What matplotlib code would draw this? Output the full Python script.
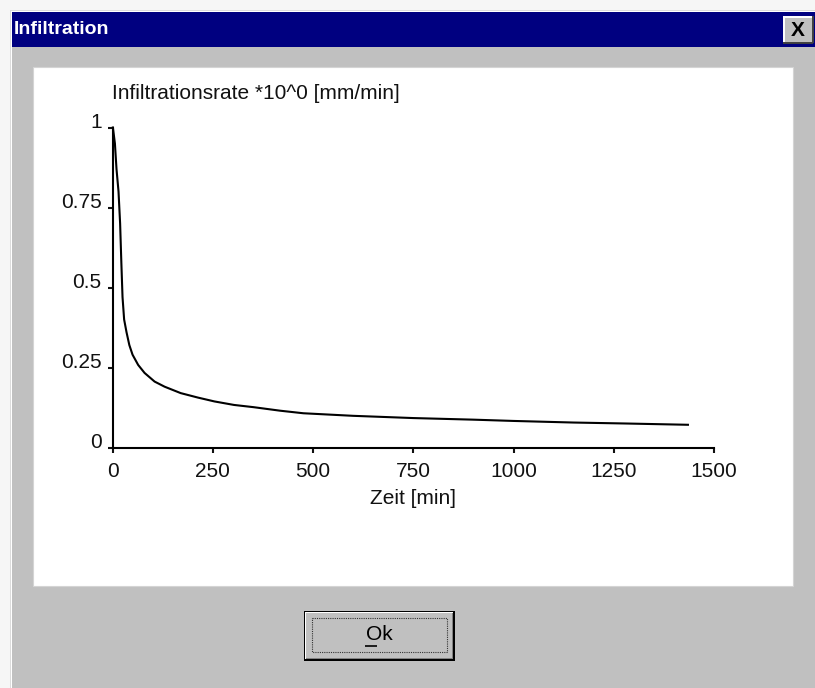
import matplotlib
matplotlib.use("Agg")
import matplotlib.pyplot as plt
from matplotlib.patches import Rectangle
from matplotlib.lines import Line2D

# ---- data ----
time_min = [1, 6, 10, 15, 19, 22, 25, 29, 35, 42, 50, 64, 80, 105, 130, 170,
            213, 254, 303, 352, 418, 476, 600, 750, 900, 1000, 1150, 1280, 1435]
rate = [1.0, 0.95, 0.87, 0.80, 0.70, 0.58, 0.47, 0.40, 0.36, 0.32, 0.29, 0.258,
        0.233, 0.206, 0.19, 0.17, 0.156, 0.144, 0.133, 0.126, 0.115, 0.107,
        0.099, 0.092, 0.087, 0.083, 0.078, 0.075, 0.071]
x_ticks = [0, 250, 500, 750, 1000, 1250, 1500]
x_tick_labels = ["0", "250", "500", "750", "1000", "1250", "1500"]
y_ticks = [0, 0.25, 0.5, 0.75, 1]
y_tick_labels = ["0", "0.25", "0.5", "0.75", "1"]
window_title = "Infiltration"
y_label = "Infiltrationsrate *10^0 [mm/min]"
x_label = "Zeit [min]"
button_text = "Ok"

W, H = 815, 688
FONT = ["Liberation Sans", "DejaVu Sans"]
plt.rcParams["font.family"] = FONT

fig = plt.figure(figsize=(W / 100, H / 100), dpi=100)
fig.patch.set_facecolor("#F6F6F6")

# background "dialog" axes in pixel coordinates
bg = fig.add_axes([0, 0, 1, 1], zorder=0)
bg.set_xlim(0, W)
bg.set_ylim(H, 0)
bg.axis("off")

def rect(x0, y0, x1, y1, fc, ec="none", lw=0, z=1):
    bg.add_patch(Rectangle((x0, y0), x1 - x0, y1 - y0, facecolor=fc,
                           edgecolor=ec, linewidth=lw, zorder=z))

def hline(x0, x1, y, c, lw=1.0, z=3, ls="-"):
    bg.add_line(Line2D([x0, x1], [y, y], color=c, linewidth=lw, zorder=z,
                       linestyle=ls, solid_capstyle="butt"))

def vline(x, y0, y1, c, lw=1.0, z=3, ls="-"):
    bg.add_line(Line2D([x, x], [y0, y1], color=c, linewidth=lw, zorder=z,
                       linestyle=ls, solid_capstyle="butt"))

# window frame
rect(10, 10, W, H, "#DCDCDC", z=1)
rect(11, 11, W, H, "#FFFFFF", z=1)
rect(12, 12, W, H, "#C0C0C0", z=1)
# title bar
rect(12, 12, W, 47, "#000080", z=2)
bg.text(14, 30, window_title, color="white", fontsize=14, fontweight="bold",
        family=["Liberation Sans", "DejaVu Sans"], va="center", ha="left", zorder=4)
# close button
rect(783, 16, 813, 43, "#C0C0C0", z=3)
hline(783, 813, 16.5, "white", 1.4, z=4)
vline(783.5, 16, 43, "white", 1.4, z=4)
hline(783, 813, 42.5, "#404040", 1.4, z=4)
vline(812.5, 16, 43, "#404040", 1.4, z=4)
bg.text(798, 30, "X", color="black", fontsize=15, fontweight="bold",
        va="center", ha="center", zorder=5)

# white chart panel
rect(33, 67, 793, 586, "white", ec="#D4D4D4", lw=0.8, z=2)

# Ok button
rect(304, 611, 455, 661, "black", z=3)
rect(305, 612, 453, 659, "white", z=3)
rect(306, 613, 453, 659, "#808080", z=3)
rect(306, 613, 452, 658, "#C0C0C0", z=3)
bx = [312, 447, 447, 312, 312]
by = [618, 618, 652, 652, 618]
bg.add_line(Line2D(bx, by, color="#333333", linewidth=0.8, linestyle=(0, (1, 1)), zorder=4))
bg.text(379, 634, button_text, color="black", fontsize=15, va="center", ha="center", zorder=5)
hline(365, 377, 646, "black", 1.2, z=5)

# chart texts
bg.text(112, 99, y_label, fontsize=15, color="#111111", va="baseline", ha="left", zorder=5)

# ---- chart axes ----
x0, x1, y0p, y1p = 112.5, 714.0, 447.5, 127.5
ax = fig.add_axes([x0 / W, (H - y0p) / H, (x1 - x0) / W, (y0p - y1p) / H], zorder=2)
ax.patch.set_alpha(0)
ax.plot(time_min, rate, color="black", linewidth=1.5, clip_on=False)
ax.set_xlim(0, 1500)
ax.set_ylim(0, 1)
for s in ("top", "right"):
    ax.spines[s].set_visible(False)
for s in ("left", "bottom"):
    ax.spines[s].set_linewidth(1.5)
    ax.spines[s].set_color("black")
ax.set_xticks(x_ticks)
ax.set_xticklabels(x_tick_labels)
ax.set_yticks(y_ticks)
ax.set_yticklabels(y_tick_labels)
ax.tick_params(axis="x", direction="out", length=3.3, width=1.5, pad=7, labelsize=15, colors="#111111")
ax.tick_params(axis="y", direction="out", length=3.6, width=1.5, pad=4.3, labelsize=15, colors="#111111")
for lab in ax.get_yticklabels():
    lab.set_verticalalignment("baseline")
ax.set_xlabel(x_label, fontsize=15, labelpad=6, color="#111111")

fig.savefig("out.png", dpi=100, facecolor=fig.get_facecolor())
